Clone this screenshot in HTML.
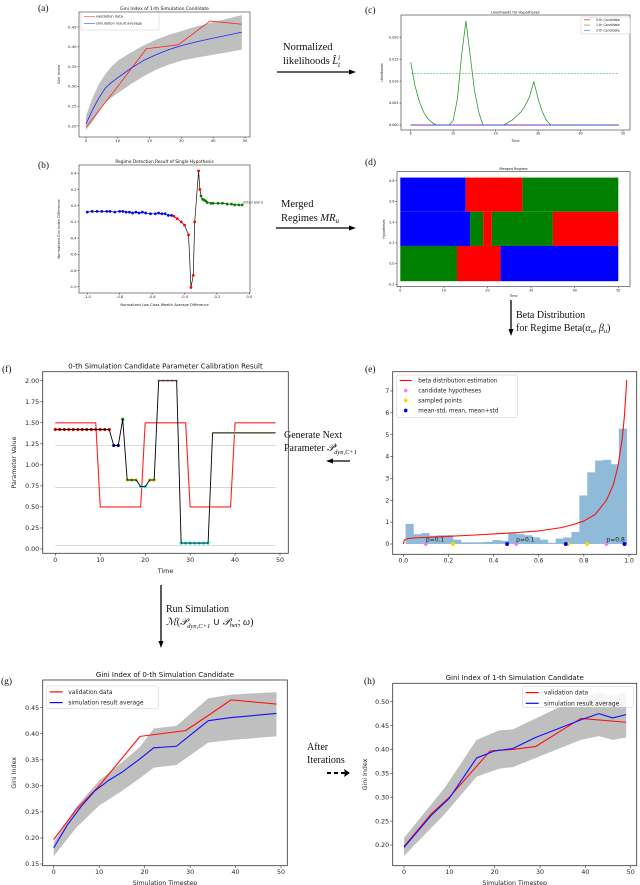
<!DOCTYPE html>
<html><head><meta charset="utf-8"><style>
html,body{margin:0;padding:0;background:#fff;}
svg{display:block;font-family:"DejaVu Sans","Liberation Sans",sans-serif;}
.m{font-family:"Liberation Serif",serif;}
</style></head><body>
<svg id="fig" width="640" height="885" viewBox="0 0 640 885" xmlns="http://www.w3.org/2000/svg">
<g class="m" font-size="9.5" fill="#111">
<text x="38" y="11">(a)</text>
<text x="365" y="13">(c)</text>
<text x="38" y="168">(b)</text>
<text x="365" y="165">(d)</text>
<text x="365" y="372">(e)</text>
<text x="2" y="372">(f)</text>
<text x="1" y="684">(g)</text>
<text x="364" y="684">(h)</text>
<text x="283" y="50" font-size="10.5">Normalized</text>
<text x="283" y="64" font-size="10.5">likelihoods <tspan font-style="italic">L̂</tspan><tspan font-size="7" dy="3" font-style="italic">t</tspan><tspan font-size="7" dy="-7" dx="-2" font-style="italic">i</tspan></text>
<text x="281" y="207" font-size="10.5">Merged</text>
<text x="281" y="221" font-size="10.5">Regimes <tspan font-style="italic">MR</tspan><tspan font-size="7" dy="2" font-style="italic">u</tspan></text>
<text x="516" y="318" font-size="10">Beta Distribution</text>
<text x="516" y="331" font-size="10">for Regime Beta(<tspan font-style="italic">α</tspan><tspan font-size="6.5" dy="2" font-style="italic">u</tspan><tspan dy="-2">, </tspan><tspan font-style="italic">β</tspan><tspan font-size="6.5" dy="2" font-style="italic">u</tspan><tspan dy="-2">)</tspan></text>
<text x="284" y="438" font-size="10">Generate Next</text>
<text x="284" y="451" font-size="10">Parameter <tspan font-style="italic">𝒫</tspan><tspan font-size="6.5" dy="-4" font-style="italic">i</tspan><tspan font-size="6.5" dy="7" dx="-2" font-style="italic">dyn,C+1</tspan></text>
<text x="166" y="612" font-size="10">Run Simulation</text>
<text x="166" y="625" font-size="10"><tspan font-style="italic">ℳ</tspan>(<tspan font-style="italic">𝒫</tspan><tspan font-size="6.5" dy="3" font-style="italic">dyn,C+1</tspan><tspan dy="-3"> ∪ </tspan><tspan font-style="italic">𝒫</tspan><tspan font-size="6.5" dy="2" font-style="italic">het</tspan><tspan dy="-2">; </tspan><tspan font-style="italic">ω</tspan>)</text>
<text x="307" y="750" font-size="10">After</text>
<text x="307" y="763" font-size="10">Iterations</text>
</g>
<g stroke="#000" stroke-width="1.3" fill="#000">
<line x1="277" y1="72" x2="352" y2="72"/><path d="M356 72 L349 69.5 L349 74.5Z" stroke="none"/>
<line x1="276" y1="228" x2="352" y2="228"/><path d="M356 228 L349 225.5 L349 230.5Z" stroke="none"/>
<line x1="511" y1="300" x2="511" y2="332"/><path d="M511 336 L508.5 329 L513.5 329Z" stroke="none"/>
<line x1="350" y1="461" x2="331" y2="461"/><path d="M326 461 L333 458.5 L333 463.5Z" stroke="none"/>
<line x1="161" y1="585" x2="161" y2="644"/><path d="M161 648 L158.5 641 L163.5 641Z" stroke="none"/>
<line x1="327" y1="773" x2="345" y2="773" stroke-dasharray="4 3" stroke-width="2"/><path d="M350 773 L344 769 L345 773 L344 777Z" stroke="none"/>
</g>
</svg>
<script>
// ---------- data (a) ----------
const aRedX=[0,10,19,29,39,49];
const aRedY=[0.197,0.300,0.395,0.405,0.465,0.457];
const aBlueX=[0,2,4,6,8,10,14,18,22,26,30,35,40,45,49];
const aBlueY=[0.205,0.240,0.270,0.295,0.310,0.322,0.345,0.365,0.380,0.393,0.403,0.413,0.422,0.430,0.437];
const aUpper=[0.225,0.270,0.305,0.330,0.350,0.365,0.385,0.403,0.418,0.430,0.440,0.452,0.462,0.472,0.480];
const aLower=[0.190,0.210,0.235,0.258,0.272,0.283,0.305,0.325,0.342,0.355,0.365,0.373,0.380,0.387,0.393];
const aYTicks=[0.20,0.25,0.30,0.35,0.40,0.45];
const giniXTicks=[0,10,20,30,40,50];
// ---------- data (c) ----------
const cGreenX=[0,1,2,3,4,5,6,9,10,11,12,13,14,15,16,17,22,24,26,27,28,29,30,31,32,33,49];
const cGreenY=[0.0143,0.009,0.0055,0.003,0.0015,0.0006,0,0,0.001,0.006,0.016,0.0237,0.016,0.008,0.003,0,0,0.0012,0.003,0.0045,0.0065,0.0099,0.006,0.003,0.001,0,0];
const cGreenMean=0.0118;
const cYTicks=[0,0.005,0.010,0.015,0.020];
const cLegend=['0-th Candidate','1-th Candidate','2-th Candidate'];
// ---------- data (b) ----------
const bBlueX=[-1.0,-0.97,-0.94,-0.91,-0.88,-0.86,-0.83,-0.8,-0.78,-0.76,-0.74,-0.72,-0.7,-0.68,-0.66,-0.64,-0.61,-0.58,-0.56,-0.54,-0.52,-0.5,-0.48];
const bBlueY=[-0.08,-0.07,-0.07,-0.07,-0.07,-0.07,-0.08,-0.07,-0.07,-0.08,-0.08,-0.09,-0.08,-0.09,-0.08,-0.09,-0.1,-0.1,-0.09,-0.1,-0.1,-0.12,-0.12];
const bRedX=[-0.465,-0.445,-0.42,-0.4,-0.375,-0.36,-0.346,-0.337,-0.313,-0.305];
const bRedY=[-0.13,-0.16,-0.2,-0.24,-0.36,-1.01,-0.86,-0.2,0.43,0.2];
const bGreenX=[-0.298,-0.288,-0.28,-0.27,-0.26,-0.237,-0.223,-0.193,-0.166,-0.137,-0.11,-0.09,-0.065,-0.044];
const bGreenY=[0.12,0.08,0.07,0.06,0.04,0.03,0.03,0.03,0.03,0.02,0.02,0.01,0.01,0.01];
const bXTicks=[-1.0,-0.8,-0.6,-0.4,-0.2,0.0];
const bYTicks=[0.4,0.2,0.0,-0.2,-0.4,-0.6,-0.8,-1.0];
// ---------- data (d) ----------
const dRowBounds=[[0.5,0.83],[0.17,0.5],[-0.17,0.17]];
const dSegStart=[[0,15,28],[0,16,19,21,35],[0,13,23]];
const dSegEnd=[[15,28,50],[16,19,21,35,50],[13,23,50]];
const dSegColor=[['#0000ff','#ff0000','#008000'],['#0000ff','#008000','#ff0000','#008000','#ff0000'],['#008000','#ff0000','#0000ff']];
const dXTicks=[0,10,20,30,40,50];
const dYTicks=[-0.2,0.0,0.2,0.4,0.6,0.8];
// ---------- data (f) ----------
const fRedX=[0,9,10,19,20,29,30,39,40,49];
const fRedY=[1.5,1.5,0.5,0.5,1.5,1.5,0.5,0.5,1.5,1.5];
const fGrayLevels=[1.23,0.73,0.04];
const fBlackX=[0,1,2,3,4,5,6,7,8,9,10,11,12,13,14,15,16,17,18,19,20,21,22,23,24,25,26,27,28,29,30,31,32,33,34,35,36,37,38,39,40,41,42,43,44,45,46,47,48,49];
const fBlackY=[1.42,1.42,1.42,1.42,1.42,1.42,1.42,1.42,1.42,1.42,1.42,1.42,1.42,1.23,1.23,1.54,0.82,0.82,0.82,0.74,0.74,0.82,0.82,2.0,2.0,2.0,2.0,2.0,0.07,0.07,0.07,0.07,0.07,0.07,0.07,1.38,1.38,1.38,1.38,1.38,1.38,1.38,1.38,1.38,1.38,1.38,1.38,1.38,1.38,1.38];
const fMarkColor=['red','red','red','red','red','red','red','red','red','red','red','red','red','#0000cc','#0000cc','green','#cccc00','#cccc00','#cccc00','cyan','cyan','#cccc00','#cccc00','pink','pink','pink','pink','pink','cyan','cyan','cyan','cyan','cyan','cyan','cyan','#ffffe0','#ffffe0','#ffffe0','#ffffe0','#ffffe0','#ffffe0','#ffffe0','#ffffe0','#ffffe0','#ffffe0','#ffffe0','#ffffe0','#ffffe0','#ffffe0','#ffffe0'];
const fYTicks=[0,0.25,0.5,0.75,1.0,1.25,1.5,1.75,2.0];
// ---------- data (e) ----------
const eBinStart=0.01, eBinWidth=0.035;
const eHist=[0.92,0.45,0.5,0.38,0.4,0.4,0.2,0.08,0.08,0.08,0.1,0.18,0.15,0.5,0.45,0.4,0.3,0.2,0.05,0.25,0.3,0.55,2.22,3.28,3.82,3.85,3.65,5.28];
const eBetaX=[0,0.005,0.02,0.05,0.1,0.2,0.3,0.4,0.5,0.6,0.7,0.75,0.8,0.85,0.9,0.93,0.95,0.97,0.98,0.99];
const eBetaY=[0,0.18,0.25,0.28,0.3,0.35,0.4,0.46,0.52,0.6,0.75,0.88,1.05,1.35,2.0,2.7,3.5,4.8,5.9,7.5];
const eCandX=[0.1,0.5,0.9];
const eCandLabel=['p=0.1','p=0.1','p=0.8'];
const eSampX=[0.22,0.73,0.815];
const eMeanX=[0.46,0.72,0.98];
const eXTicks=[0,0.2,0.4,0.6,0.8,1.0];
const eYTicks=[0,1,2,3,4,5,6,7];
// ---------- data (g) ----------
const gRedX=[0,5,10,19,29,34,39,49];
const gRedY=[0.197,0.255,0.300,0.395,0.406,0.435,0.465,0.457];
const gBlueX=[0,3,6,9,12,15,19,22,27,29,34,39,49];
const gBlueY=[0.181,0.225,0.260,0.290,0.310,0.326,0.352,0.373,0.376,0.390,0.425,0.431,0.439];
const gBandX=[0,5,10,15,19,22,27,34,39,49];
const gUpper=[0.192,0.26,0.31,0.345,0.375,0.41,0.415,0.468,0.475,0.48];
const gLower=[0.165,0.22,0.262,0.29,0.315,0.335,0.34,0.383,0.388,0.395];
const gYTicks=[0.15,0.20,0.25,0.30,0.35,0.40,0.45];
// ---------- data (h) ----------
const hRedX=[0,6,10,19,24,29,39,49];
const hRedY=[0.197,0.265,0.300,0.397,0.400,0.406,0.465,0.457];
const hBlueX=[0,6,10,16,20,24,29,39,43,46,49];
const hBlueY=[0.195,0.262,0.298,0.382,0.397,0.402,0.425,0.462,0.475,0.466,0.473];
const hBandX=[0,9,16,21,24,39,43,46,49];
const hUpper=[0.215,0.32,0.42,0.44,0.442,0.51,0.52,0.512,0.52];
const hLower=[0.177,0.265,0.343,0.36,0.363,0.42,0.428,0.42,0.425];
const hYTicks=[0.20,0.25,0.30,0.35,0.40,0.45,0.50];

const NS='http://www.w3.org/2000/svg';
const svg=document.getElementById('fig');
function mk(tag,a,p){const e=document.createElementNS(NS,tag);for(const k in a)e.setAttribute(k,a[k]);(p||svg).appendChild(e);return e;}
function scale(d0,d1,p0,p1){return v=>p0+(v-d0)*(p1-p0)/(d1-d0);}

function axes(o){
  const g=mk('g',{});
  
  
  const X=scale(o.xd[0],o.xd[1],o.xp[0],o.xp[1]);
  const Y=scale(o.yd[0],o.yd[1],o.yp[0],o.yp[1]);
  const marks=mk('g',{},g);
  const fr=mk('rect',{x:o.L,y:o.T,width:o.R-o.L,height:o.B-o.T,fill:'none',stroke:'#333','stroke-width':o.sw||0.8});
  
  
  g.appendChild(fr);
  const fs=o.fs, tl=o.tl||2;
  o.xt.forEach(v=>{
    const x=X(v);
    mk('line',{x1:x,x2:x,y1:o.B,y2:o.B+tl,stroke:'#333','stroke-width':0.6},g);
    const t=mk('text',{x:x,y:o.B+tl+fs*0.95,'font-size':fs,'text-anchor':'middle',fill:'#222'},g);
    t.textContent=o.xf(v);
    
    
  });
  o.yt.forEach(v=>{
    const y=Y(v);
    mk('line',{x1:o.L-tl,x2:o.L,y1:y,y2:y,stroke:'#333','stroke-width':0.6},g);
    const t=mk('text',{x:o.L-tl-1,y:y+fs*0.35,'font-size':fs,'text-anchor':'end',fill:'#222'},g);
    t.textContent=o.yf(v);
    
    
  });
  const ti=mk('text',{x:(o.L+o.R)/2,y:o.T-o.tfs*0.45,'font-size':o.tfs,'text-anchor':'middle',fill:'#111'},g);
  ti.textContent=o.title;
  
  
  const xl=mk('text',{x:(o.L+o.R)/2,y:o.xly,'font-size':fs,'text-anchor':'middle',fill:'#222'},g);
  xl.textContent=o.xl;
  
  
  const yl=mk('text',{x:o.ylx,y:(o.T+o.B)/2,'font-size':fs,'text-anchor':'middle',fill:'#222',transform:`rotate(-90 ${o.ylx} ${(o.T+o.B)/2})`},g);
  yl.textContent=o.yl;
  
  
  return {X,Y,g:marks};
}
function path(xs,ys,P){return xs.map((x,i)=>(i?'L':'M')+P.X(x).toFixed(2)+' '+P.Y(ys[i]).toFixed(2)).join(' ');}
function drawLine(xs,ys,P,stroke,w,name,dash){
  const e=mk('path',{d:path(xs,ys,P),fill:'none',stroke:stroke,'stroke-width':w,'stroke-linejoin':'round'},P.g);
  if(dash)e.setAttribute('stroke-dasharray',dash);
  
  
  return e;
}
function drawBand(xs,up,lo,P,name){
  let d=xs.map((x,i)=>(i?'L':'M')+P.X(x)+' '+P.Y(up[i])).join(' ');
  for(let i=xs.length-1;i>=0;i--)d+=' L'+P.X(xs[i])+' '+P.Y(lo[i]);
  const e=mk('path',{d:d+'Z',fill:'#bfbfbf',stroke:'none'},P.g);
  
  
}
function legend(P,x,y,w,h,items,fs,lineLen,gap,tx,name){
  const g=mk('g',{},P.g.parentNode);
  
  
  mk('rect',{x:x,y:y,width:w,height:h,fill:'#fff','fill-opacity':0.85,stroke:'#ccc','stroke-width':0.5,rx:1},g);
  items.forEach((it,i)=>{
    const yy=y+gap*0.55+i*gap;
    if(it.dot){mk('circle',{cx:x+lineLen/2+3,cy:yy,r:fs*0.32,fill:it.c},g);}
    else mk('line',{x1:x+3,x2:x+3+lineLen,y1:yy,y2:yy,stroke:it.c,'stroke-width':fs*0.2},g);
    const t=mk('text',{x:tx,y:yy+fs*0.35,'font-size':fs,fill:'#222'},g);
    t.textContent=it.t;
    
    
  });
}
const f2=v=>v.toFixed(2), f1=v=>v.toFixed(1), f0=v=>String(v), f3=v=>v.toFixed(3);

// ---------- panel (a) ----------
const A=axes({name:'chart-a',L:79,R:250,T:12,B:137,xd:[0,50],xp:[86,245],yd:[0.20,0.45],yp:[126,27],xt:giniXTicks,yt:aYTicks,xf:f0,yf:f2,fs:3.8,tfs:4.5,title:'Gini Index of 1-th Simulation Candidate',xl:'',xly:146,yl:'Gini Index',ylx:60,tl:1.5,sw:0.6});
drawBand(aBlueX,aUpper,aLower,A,'band-a');
drawLine(aRedX,aRedY,A,'#ff2020',0.8,'validation-line-a');
drawLine(aBlueX,aBlueY,A,'#2020ff',0.8,'simulation-line-a');
legend(A,81,12.5,78,17.5,[{t:'validation data',c:'#ff6060'},{t:'simulation result average',c:'#6060ff'}],3.6,11,7,96,'legend-a');

// ---------- panel (c) ----------
const C=axes({name:'chart-c',L:401,R:630,T:15,B:130,xd:[0,50],xp:[410.7,623],yd:[0,0.020],yp:[125,37.3],xt:giniXTicks,yt:cYTicks,xf:f0,yf:f3,fs:3.3,tfs:3.6,title:'Likelihoods for Hypotheses',xl:'Time',xly:142,yl:'Likelihoods',ylx:383,tl:1.5,sw:0.6});
drawLine([0,49],[0,0],C,'#ff0000',0.8,'candidate-0-line');
drawLine(cGreenX,cGreenY,C,'#2a9a2a',0.8,'candidate-1-line');
drawLine([0,49],[cGreenMean,cGreenMean],C,'#2a9a2a',0.6,'candidate-1-mean-line','2 1.2');
drawLine([0,49],[0,0],C,'#3030ff',0.9,'candidate-2-line','2 1');
legend(C,581,17,49,17,[{t:cLegend[0],c:'red'},{t:cLegend[1],c:'#40a040'},{t:cLegend[2],c:'#6060ff'}],3.2,6,5.2,596,'legend-c');

// ---------- panel (b) ----------
const Bp=axes({name:'chart-b',L:79,R:250,T:165,B:293,xd:[-1.0,0.0],xp:[87.3,249.3],yd:[0.4,-1.0],yp:[173.3,286.7],xt:bXTicks,yt:bYTicks,xf:f1,yf:f1,fs:3.6,tfs:4.3,title:'Regime Detection Result of Single Hypothesis',xl:'Normalized Low Class Wealth Average Difference',xly:306,yl:'Normalized Gini Index Difference',ylx:60,tl:1.5,sw:0.6});
drawLine(bBlueX.concat(bRedX,bGreenX),bBlueY.concat(bRedY,bGreenY),Bp,'#111',0.7,'trajectory-line-b');
[[bBlueX,bBlueY,'#0000ff','blue-regime-point'],[bRedX,bRedY,'#ff0000','red-regime-point'],[bGreenX,bGreenY,'#008000','green-regime-point']].forEach(s=>{
  s[0].forEach((x,i)=>{
    const c=mk('circle',{cx:Bp.X(x),cy:Bp.Y(s[1][i]),r:1.4,fill:s[2]},Bp.g);
    
    
  });
});
const ip=mk('text',{x:Bp.X(-0.04),y:Bp.Y(0.03),'font-size':3.6,fill:'#333'},Bp.g.parentNode);
ip.textContent='initial point';



// ---------- panel (d) ----------
const D=axes({name:'chart-d',L:397,R:630,T:171.7,B:286.7,xd:[0,50],xp:[400.3,618.3],yd:[0.8,-0.2],yp:[180.7,284.3],xt:dXTicks,yt:dYTicks,xf:f0,yf:f1,fs:3.3,tfs:3.6,title:'Merged Regime',xl:'Time',xly:297,yl:'Hypotheses',ylx:385,tl:1.5,sw:0.6});
dSegStart.forEach((row,r)=>{
  row.forEach((s,k)=>{
    const x0=D.X(s),x1=D.X(dSegEnd[r][k]),y0=D.Y(dRowBounds[r][1]),y1=D.Y(dRowBounds[r][0]);
    const e=mk('rect',{x:x0,y:y0,width:x1-x0,height:y1-y0,fill:dSegColor[r][k]},D.g);
    
    
  });
});

// ---------- panel (f) ----------
const F=axes({name:'chart-f',L:42.7,R:288.3,T:371.7,B:553.3,xd:[0,50],xp:[55.3,280],yd:[0,2.0],yp:[549,380.7],xt:giniXTicks,yt:fYTicks,xf:f0,yf:f2,fs:6.3,tfs:7,title:'0-th Simulation Candidate Parameter Calibration Result',xl:'Time',xly:573,yl:'Parameter Value',ylx:16,tl:2.5,sw:0.8});
fGrayLevels.forEach(v=>{drawLine([0,49],[v,v],F,'#cfcfcf',0.8,'regime-level-line');});
drawLine(fRedX,fRedY,F,'#ff2020',1.1,'true-parameter-line');
fBlackX.forEach((x,i)=>{
  const c=mk('circle',{cx:F.X(x),cy:F.Y(fBlackY[i]),r:1.6,fill:fMarkColor[i]},F.g);
  
  
});
drawLine(fBlackX,fBlackY,F,'#000',0.9,'calibrated-parameter-line');

// ---------- panel (e) ----------
const E=axes({name:'chart-e',L:392.7,R:636.7,T:371.7,B:554.3,xd:[0,1],xp:[403.3,629],yd:[0,7],yp:[544,391],xt:eXTicks,yt:eYTicks,xf:f1,yf:f0,fs:6,tfs:7,title:'',xl:'',xly:0,yl:'',ylx:0,tl:2.5,sw:0.8});
eHist.forEach((h,i)=>{
  const x0=E.X(eBinStart+i*eBinWidth),x1=E.X(eBinStart+(i+1)*eBinWidth);
  const r=mk('rect',{x:x0,y:E.Y(h),width:x1-x0+0.3,height:E.Y(0)-E.Y(h),fill:'#8fbbd9'},E.g);
  
  
});
drawLine(eBetaX,eBetaY,E,'#ff1010',1.1,'beta-distribution-curve');
[[eCandX,'violet','candidate-hypothesis-point'],[eSampX,'gold','sampled-point'],[eMeanX,'#0000ee','mean-std-point']].forEach(s=>{
  s[0].forEach(x=>{
    const c=mk('circle',{cx:E.X(x),cy:E.Y(0),r:2,fill:s[1]},E.g);
    
    
  });
});
eCandX.forEach((x,i)=>{
  const t=mk('text',{x:E.X(x),y:E.Y(0)-2.5,'font-size':6,fill:'#222'},E.g);
  t.textContent=eCandLabel[i];
  
  
});
legend(E,396.7,375,120.6,42.3,[{t:'beta distribution estimation',c:'red'},{t:'candidate hypotheses',c:'violet',dot:1},{t:'sampled points',c:'gold',dot:1},{t:'mean-std, mean, mean+std',c:'#0000ee',dot:1}],5.7,12,10,418.3,'legend-e');

// ---------- panel (g) ----------
const G=axes({name:'chart-g',L:42.7,R:287.3,T:680,B:865.7,xd:[0,50],xp:[53.7,281],yd:[0.15,0.45],yp:[864,707.7],xt:giniXTicks,yt:gYTicks,xf:f0,yf:f2,fs:6.3,tfs:7,title:'Gini Index of 0-th Simulation Candidate',xl:'Simulation Timestep',xly:885,yl:'Gini Index',ylx:16,tl:2.5,sw:0.8});
drawBand(gBandX,gUpper,gLower,G,'band-g');
drawLine(gRedX,gRedY,G,'#ff1010',1.1,'validation-line-g');
drawLine(gBlueX,gBlueY,G,'#1010ff',1.1,'simulation-line-g');
legend(G,46.7,686,111.6,22.3,[{t:'validation data',c:'red'},{t:'simulation result average',c:'blue'}],5.9,13,10.7,68.3,'legend-g');

// ---------- panel (h) ----------
const H=axes({name:'chart-h',L:392.7,R:636.7,T:683.3,B:865.7,xd:[0,50],xp:[404,630.7],yd:[0.20,0.50],yp:[845,701.7],xt:giniXTicks,yt:hYTicks,xf:f0,yf:f2,fs:6.3,tfs:7,title:'Gini Index of 1-th Simulation Candidate',xl:'Simulation Timestep',xly:885,yl:'Gini Index',ylx:367,tl:2.5,sw:0.8});
drawBand(hBandX,hUpper,hLower,H,'band-h');
drawLine(hRedX,hRedY,H,'#ff1010',1.1,'validation-line-h');
drawLine(hBlueX,hBlueY,H,'#1010ff',1.1,'simulation-line-h');
legend(H,522.7,686.7,110.6,20.6,[{t:'validation data',c:'red'},{t:'simulation result average',c:'blue'}],5.9,13,10.7,544,'legend-h');
</script>
</body></html>
